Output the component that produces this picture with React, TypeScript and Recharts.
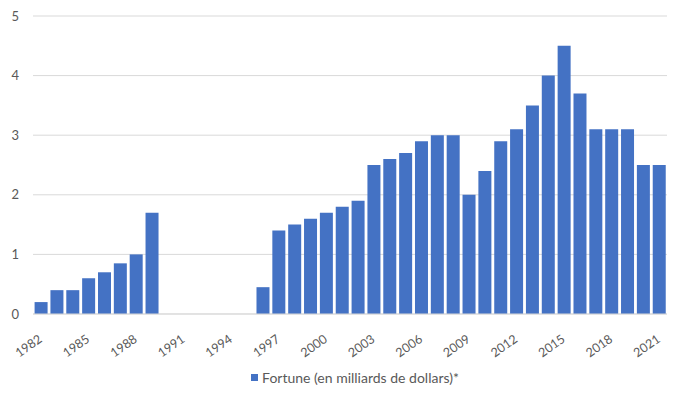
import { BarChart, Bar, XAxis, YAxis, CartesianGrid } from "recharts";

const years = [
  "1982", "1983", "1984", "1985", "1986", "1987", "1988", "1989", "1990", "1991",
  "1992", "1993", "1994", "1995", "1996", "1997", "1998", "1999", "2000", "2001",
  "2002", "2003", "2004", "2005", "2006", "2007", "2008", "2009", "2010", "2011",
  "2012", "2013", "2014", "2015", "2016", "2017", "2018", "2019", "2020", "2021",
];

// billions of dollars; null = no data (1990-1995)
const fortune: (number | null)[] = [
  0.2, 0.4, 0.4, 0.6, 0.7, 0.85, 1.0, 1.7, null, null,
  null, null, null, null, 0.45, 1.4, 1.5, 1.6, 1.7, 1.8,
  1.9, 2.5, 2.6, 2.7, 2.9, 3.0, 3.0, 2.0, 2.4, 2.9,
  3.1, 3.5, 4.0, 4.5, 3.7, 3.1, 3.1, 3.1, 2.5, 2.5,
];

const yTicks = [0, 1, 2, 3, 4, 5];
const seriesName = "Fortune (en milliards de dollars)*";

const data = years.map((year, i) => ({ year, value: fortune[i] }));

const FONT = "Lato, 'Open Sans', sans-serif";
const TEXT = "#595959";
const BLUE = "#4472C4";
const GRID = "#D9D9D9";

function YearTick(props: any) {
  const { x, y, payload } = props;
  return (
    <g transform={`translate(${x + 2},${y + 25}) rotate(-35)`}>
      <text textAnchor="end" fill={TEXT} fontSize={12.5} fontFamily={FONT}>
        {payload.value}
      </text>
    </g>
  );
}

export default function App() {
  return (
    <div style={{ margin: -8, width: 690, height: 403, position: "relative", background: "#fff", overflow: "hidden" }}>
      <div style={{ position: "absolute", left: 1, top: 0, width: 1, height: 401, background: GRID }} />
      <div style={{ position: "absolute", left: 1, top: 400, width: 689, height: 1, background: GRID }} />
      <BarChart
        width={690}
        height={403}
        data={data}
        margin={{ top: 16, right: 23, bottom: 39, left: 0 }}
        barCategoryGap="10%"
      >
        <CartesianGrid vertical={false} stroke={GRID} />
        <XAxis
          dataKey="year"
          interval={2}
          axisLine={{ stroke: GRID }}
          tickLine={false}
          tickSize={0}
          height={50}
          tick={<YearTick />}
        />
        <YAxis
          domain={[0, 5]}
          ticks={yTicks}
          width={33}
          axisLine={false}
          tickLine={false}
          tickSize={0}
          tickMargin={14}
          tick={{ fill: TEXT, fontSize: 13, fontFamily: FONT }}
        />
        <Bar dataKey="value" name={seriesName} fill={BLUE} isAnimationActive={false} />
      </BarChart>
      <div
        style={{
          position: "absolute",
          top: 369,
          left: 10,
          width: 690,
          display: "flex",
          justifyContent: "center",
          alignItems: "center",
          fontFamily: FONT,
          fontSize: 14,
          color: TEXT,
        }}
      >
        <span style={{ width: 7, height: 7, background: BLUE, marginRight: 4, display: "inline-block" }} />
        <span>{seriesName}</span>
      </div>
    </div>
  );
}
